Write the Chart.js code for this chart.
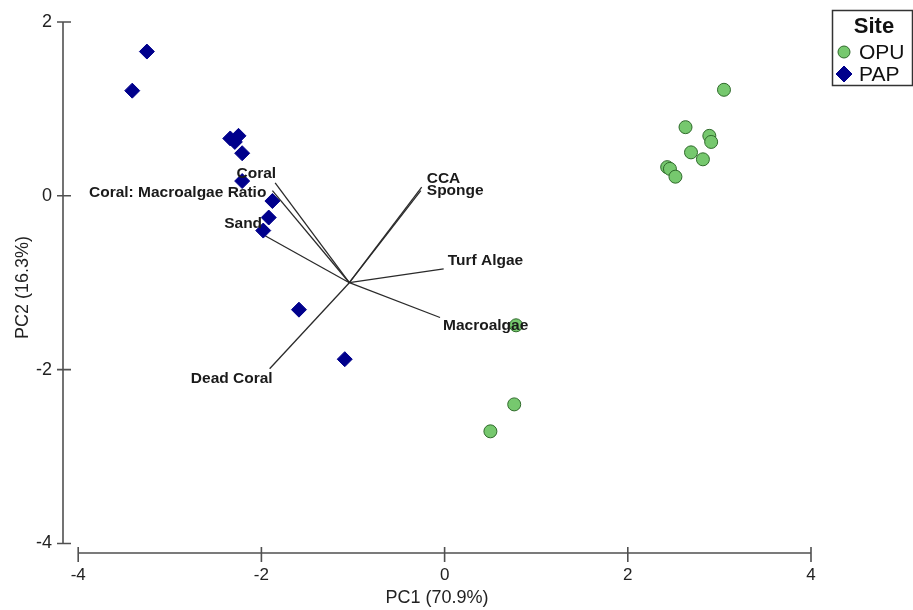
<!DOCTYPE html>
<html>
<head>
<meta charset="utf-8">
<title>PCA biplot - benthic cover by site</title>
<script src="https://cdn.jsdelivr.net/npm/chart.js@4/dist/chart.umd.min.js"></script>
<style>
  body { margin: 0; background: #fff; }
  #wrap { width: 913px; height: 610px; }
</style>
</head>
<body>
<div id="wrap"><canvas id="pcaChart" width="913" height="610"></canvas></div>
<script>
// site scores on PC1 / PC2
const opuPC1 = [3.05, 2.63, 2.89, 2.91, 2.69, 2.82, 2.43, 2.46, 2.52, 0.78, 0.76, 0.50];
const opuPC2 = [1.22, 0.79, 0.69, 0.62, 0.50, 0.42, 0.33, 0.31, 0.22, -1.49, -2.40, -2.71];
const papPC1 = [-3.25, -3.41, -2.34, -2.25, -2.29, -2.21, -2.21, -1.88, -1.92, -1.98, -1.59, -1.09];
const papPC2 = [1.66, 1.21, 0.66, 0.69, 0.62, 0.49, 0.17, -0.06, -0.25, -0.40, -1.31, -1.88];

// benthic variable vectors, all drawn from one origin
const vectorNames = ["Coral", "Coral: Macroalgae Ratio", "Sand", "Dead Coral", "CCA", "Sponge", "Turf Algae", "Macroalgae"];
const vectorPC1 = [-1.85, -1.88, -1.96, -1.91, -0.25, -0.26, -0.01, -0.05];
const vectorPC2 = [0.15, 0.06, -0.46, -1.99, 0.10, 0.06, -0.84, -1.40];
const vectorOrigin = [-1.04, -1.0];

const xTicks = [-4, -2, 0, 2, 4];
const yTicks = [-4, -2, 0, 2];

// where each vector name sits relative to the vector tip (pixels)
const labelPlacement = [
  { align: "right", dx: 1, dy: -9 },
  { align: "right", dx: -6, dy: 2 },
  { align: "right", dx: -3, dy: -12 },
  { align: "right", dx: 3, dy: 10 },
  { align: "left", dx: 5, dy: -8 },
  { align: "left", dx: 6, dy: 0 },
  { align: "left", dx: 4, dy: -8 },
  { align: "left", dx: 3, dy: 8 },
];

const FONT = "'Liberation Sans', Arial, sans-serif";
const AXIS_COLOR = "#505050";

const toPoints = (xs, ys) => xs.map((x, i) => ({ x: x, y: ys[i] }));

const datasets = [
  {
    label: "OPU",
    data: toPoints(opuPC1, opuPC2),
    pointStyle: "circle",
    pointRadius: 6.5,
    backgroundColor: "#76c86e",
    borderColor: "#2f6a2b",
    borderWidth: 1,
  },
  {
    label: "PAP",
    data: toPoints(papPC1, papPC2),
    pointStyle: "rectRot",
    pointRadius: 7.5,
    backgroundColor: "#00008c",
    borderColor: "#00008c",
    borderWidth: 1,
  },
];

vectorNames.forEach((name, i) => {
  datasets.push({
    label: name,
    data: [
      { x: vectorOrigin[0], y: vectorOrigin[1] },
      { x: vectorPC1[i], y: vectorPC2[i] },
    ],
    showLine: true,
    pointRadius: 0,
    borderColor: "#2a2a2a",
    borderWidth: 1.3,
    isVector: true,
  });
});

// detached axis lines with crossing tick marks
const axisLines = {
  id: "axisLines",
  beforeDatasetsDraw(chart) {
    const { ctx, chartArea, scales } = chart;
    const x = scales.x;
    const y = scales.y;
    ctx.save();
    ctx.strokeStyle = AXIS_COLOR;
    ctx.lineWidth = 1.6;
    ctx.beginPath();
    const ax = chartArea.left;
    ctx.moveTo(ax, y.getPixelForValue(yTicks[yTicks.length - 1]));
    ctx.lineTo(ax, y.getPixelForValue(yTicks[0]));
    yTicks.forEach((v) => {
      const py = y.getPixelForValue(v);
      ctx.moveTo(ax - 6, py);
      ctx.lineTo(ax + 8, py);
    });
    const ay = chartArea.bottom;
    ctx.moveTo(x.getPixelForValue(xTicks[0]), ay);
    ctx.lineTo(x.getPixelForValue(xTicks[xTicks.length - 1]), ay);
    xTicks.forEach((v) => {
      const px = x.getPixelForValue(v);
      ctx.moveTo(px, ay - 6);
      ctx.lineTo(px, ay + 9);
    });
    ctx.stroke();
    ctx.restore();
  },
};

// names at the vector tips
const vectorLabels = {
  id: "vectorLabels",
  afterDatasetsDraw(chart) {
    const { ctx, scales } = chart;
    ctx.save();
    ctx.font = "bold 15.5px " + FONT;
    ctx.fillStyle = "#1a1a1a";
    ctx.textBaseline = "middle";
    vectorNames.forEach((name, i) => {
      const p = labelPlacement[i];
      ctx.textAlign = p.align;
      ctx.fillText(name,
        scales.x.getPixelForValue(vectorPC1[i]) + p.dx,
        scales.y.getPixelForValue(vectorPC2[i]) + p.dy);
    });
    ctx.restore();
  },
};

// boxed site key in the top right corner
const siteKey = {
  id: "siteKey",
  afterDraw(chart) {
    const { ctx } = chart;
    const left = 832.5, top = 10.5, w = 80, h = 75;
    ctx.save();
    ctx.fillStyle = "#fff";
    ctx.fillRect(left, top, w, h);
    ctx.strokeStyle = "#333";
    ctx.lineWidth = 1.5;
    ctx.strokeRect(left, top, w, h);

    ctx.fillStyle = "#111";
    ctx.textBaseline = "middle";
    ctx.textAlign = "center";
    ctx.font = "bold 22px " + FONT;
    ctx.fillText("Site", 874, 27);

    ctx.textAlign = "left";
    ctx.font = "21px " + FONT;
    chart.data.datasets.filter((d) => !d.isVector).forEach((d, i) => {
      const cy = 52 + i * 22;
      ctx.fillStyle = d.backgroundColor;
      ctx.strokeStyle = d.borderColor;
      ctx.lineWidth = d.borderWidth;
      Chart.helpers.drawPoint(ctx, {
        pointStyle: d.pointStyle,
        radius: d.pointStyle === "circle" ? 6 : 8,
        borderWidth: d.borderWidth,
      }, 844, cy);
      ctx.fillStyle = "#111";
      ctx.fillText(d.label, 859, cy + 1);
    });
    ctx.restore();
  },
};

new Chart(document.getElementById("pcaChart"), {
  type: "scatter",
  data: { datasets: datasets },
  options: {
    responsive: false,
    animation: false,
    events: [],
    layout: { padding: { top: 22, right: 102, left: 0, bottom: 0 } },
    plugins: {
      legend: { display: false },
      tooltip: { enabled: false },
    },
    scales: {
      x: {
        type: "linear",
        min: -4.166,
        max: 4,
        afterBuildTicks: (scale) => { scale.ticks = xTicks.map((v) => ({ value: v })); },
        afterFit: (scale) => { scale.height = 57; },
        grid: { display: false, drawTicks: false },
        border: { display: false },
        ticks: { padding: 12, color: "#222", font: { family: FONT, size: 17 } },
        title: {
          display: true,
          text: "PC1 (70.9%)",
          color: "#222",
          font: { family: FONT, size: 18 },
          padding: { top: 0, bottom: 1 },
        },
      },
      y: {
        type: "linear",
        min: -4.11,
        max: 2,
        afterBuildTicks: (scale) => { scale.ticks = yTicks.map((v) => ({ value: v })); },
        afterFit: (scale) => { scale.width = 63; },
        grid: { display: false, drawTicks: false },
        border: { display: false },
        ticks: { padding: 11, color: "#222", font: { family: FONT, size: 18 } },
        title: {
          display: true,
          text: "PC2 (16.3%)",
          color: "#222",
          font: { family: FONT, size: 18 },
          padding: { top: 12, bottom: 0 },
        },
      },
    },
  },
  plugins: [axisLines, vectorLabels, siteKey],
});
</script>
</body>
</html>
